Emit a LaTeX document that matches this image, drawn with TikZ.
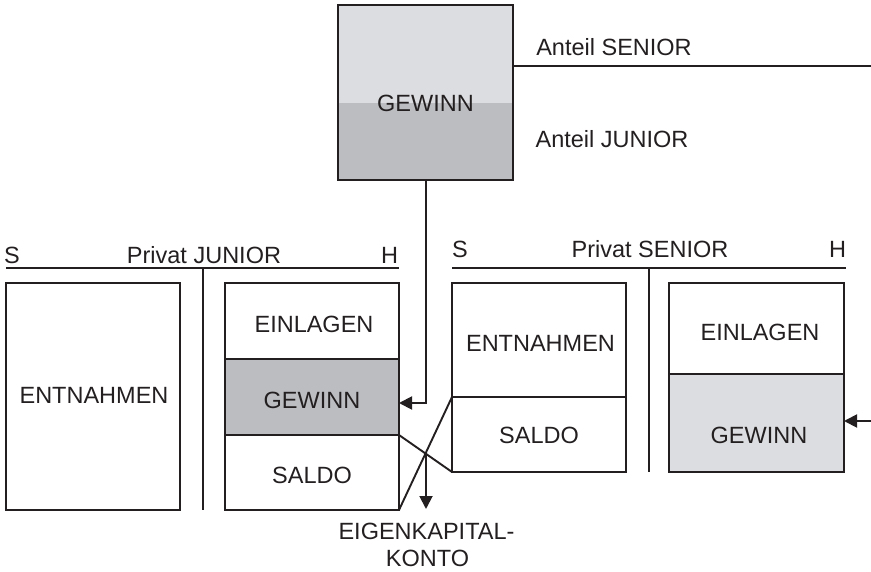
\documentclass[tikz,border=0pt]{standalone}
\usepackage{fontspec}
\setmainfont{Liberation Sans}
\usetikzlibrary{arrows.meta,calc}
\definecolor{ink}{HTML}{231F20}
\definecolor{graylight}{HTML}{DCDDE0}
\definecolor{graymid}{HTML}{BCBDC1}
\begin{document}
\begin{tikzpicture}[x=1pt,y=-1pt,
  line width=1.9pt, color=ink,
  cell/.style={draw=ink, line width=1.9pt, inner sep=0pt, outer sep=0pt, anchor=north west},
  lbl/.style={anchor=base, inner sep=0pt, text=ink, font=\fontsize{23.5}{28}\selectfont},
  arr/.style={-{Triangle[length=13pt,width=13pt]}}]
\useasboundingbox (0,0) rectangle (871,572);

% profit box at the top: two shaded shares in one frame
\node[cell, draw=none, fill=graylight, minimum width=175pt, minimum height=98pt] (gup) at (338,5) {};
\node[cell, draw=none, fill=graymid, minimum width=175pt, minimum height=77pt] (glow) at (338,103) {};
\node[cell, minimum width=175pt, minimum height=175pt] (gew) at (338,5) {};
\node[lbl] (gewt) at (425.5,112) {GEWINN};
\coordinate (ant) at (871,66);
\draw (gew.east |- ant) -- (ant);
\node[lbl] (asen) at (614,56) {Anteil SENIOR};
\node[lbl] (ajun) at (612,148) {Anteil JUNIOR};

% T-account Privat JUNIOR
\coordinate (jl) at (6,268);
\coordinate (jr) at (399,268);
\coordinate (jm) at (203,268);
\coordinate (jmb) at (203,510);
\draw (jl) -- (jr);
\draw (jm) -- (jmb);
\node[lbl] (js) at (12,264) {S};
\node[lbl] (jt) at (204,264) {Privat JUNIOR};
\node[lbl] (jh) at (389.5,264) {H};
\node[cell, minimum width=174pt, minimum height=227pt] (jent) at (6,283) {};
\node[cell, minimum width=174pt, minimum height=76pt] (jein) at (225,283) {};
\node[cell, fill=graymid, minimum width=174pt, minimum height=76pt] (jgew) at (225,359) {};
\node[cell, minimum width=174pt, minimum height=75pt] (jsal) at (225,435) {};
\node[lbl] (jentt) at (94,403) {ENTNAHMEN};
\node[lbl] (jeint) at (314,333) {EINLAGEN};
\node[lbl] (jgewt) at (312,408) {GEWINN};
\node[lbl] (jsalt) at (312,483) {SALDO};

% T-account Privat SENIOR
\coordinate (sl) at (452,268);
\coordinate (sr) at (846,268);
\coordinate (sm) at (649,268);
\coordinate (smb) at (649,472);
\draw (sl) -- (sr);
\draw (sm) -- (smb);
\node[lbl] (ss) at (460,258) {S};
\node[lbl] (st) at (650,258) {Privat SENIOR};
\node[lbl] (sh) at (837.5,258) {H};
\node[cell, minimum width=174pt, minimum height=114pt] (sent) at (452,283) {};
\node[cell, minimum width=174pt, minimum height=75pt] (ssal) at (452,397) {};
\node[cell, minimum width=175pt, minimum height=91pt] (sein) at (669,283) {};
\node[cell, fill=graylight, minimum width=175pt, minimum height=98pt] (sgew) at (669,374) {};
\node[lbl] (sentt) at (540.5,352) {ENTNAHMEN};
\node[lbl] (ssalt) at (539,443) {SALDO};
\node[lbl] (seint) at (760,341) {EINLAGEN};
\node[lbl] (sgewt) at (759,443) {GEWINN};

% profit shares flowing into the private accounts
\coordinate (jin) at (399,403);
\coordinate (jdrop) at (426,180);
\draw[arr] (jdrop) |- (jin);
\coordinate (sin) at (871,421);
\draw[arr] (sin) -- (sgew.east |- sin);

% balances crossing over to the equity account
\draw (jgew.south east) -- (ssal.south west);
\draw (jsal.south east) -- (ssal.north west);
\coordinate (cross) at (intersection of jgew.south east--ssal.south west and jsal.south east--ssal.north west);
\coordinate (ekt) at (426,509);
\draw[arr] (ekt |- cross) -- (ekt);
\node[lbl] (ek1) at (426.5,539) {EIGENKAPITAL-};
\node[lbl] (ek2) at (427.5,566) {KONTO};
\end{tikzpicture}
\end{document}
